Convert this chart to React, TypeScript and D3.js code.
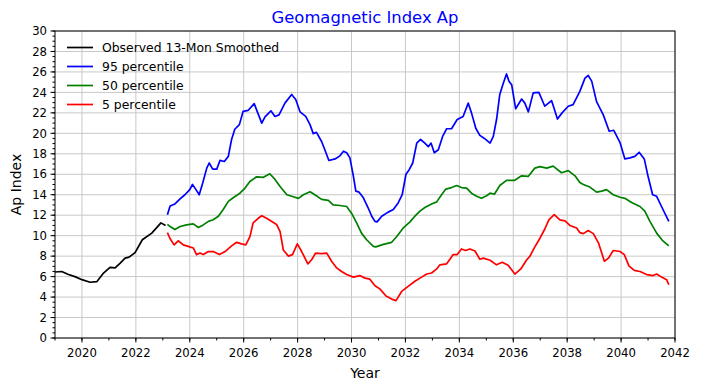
import React from "react";
import * as d3 from "d3";

// [year, Ap] pairs
const observed: [number, number][] = [
  [2019.0, 6.45], [2019.25, 6.5], [2019.5, 6.2], [2019.74, 6.0], [2020.0, 5.7],
  [2020.3, 5.45], [2020.55, 5.5], [2020.8, 6.35], [2021.04, 6.9], [2021.23, 6.85],
  [2021.41, 7.3], [2021.6, 7.8], [2021.75, 7.9], [2021.97, 8.35], [2022.24, 9.6],
  [2022.59, 10.25], [2022.93, 11.25], [2023.1, 11.0],
];

const p95: [number, number][] = [
  [2023.17, 12.05], [2023.27, 12.9], [2023.45, 13.1], [2023.64, 13.6], [2023.82, 14.0],
  [2024.0, 14.5], [2024.1, 15.0], [2024.23, 14.5], [2024.35, 14.0], [2024.48, 15.15],
  [2024.63, 16.6], [2024.72, 17.1], [2024.85, 16.5], [2025.0, 16.5], [2025.12, 17.35],
  [2025.28, 17.25], [2025.43, 17.75], [2025.55, 19.4], [2025.67, 20.4], [2025.84, 20.85],
  [2025.98, 22.15], [2026.17, 22.25], [2026.39, 22.9], [2026.5, 22.15], [2026.67, 21.0],
  [2026.79, 21.6], [2027.01, 22.2], [2027.16, 21.65], [2027.31, 21.8], [2027.53, 22.95],
  [2027.78, 23.8], [2027.93, 23.3], [2028.09, 22.1], [2028.3, 21.65], [2028.46, 20.85],
  [2028.58, 19.97], [2028.7, 20.1], [2028.89, 19.2], [2029.01, 18.4], [2029.16, 17.35],
  [2029.39, 17.5], [2029.57, 17.8], [2029.7, 18.25], [2029.82, 18.1], [2029.94, 17.6],
  [2030.07, 15.8], [2030.16, 14.35], [2030.28, 14.25], [2030.44, 13.7], [2030.62, 12.7],
  [2030.75, 11.9], [2030.87, 11.4], [2030.95, 11.35], [2031.12, 11.9], [2031.36, 12.3],
  [2031.55, 12.55], [2031.73, 13.2], [2031.88, 14.0], [2032.02, 16.0], [2032.14, 16.45],
  [2032.27, 17.1], [2032.42, 19.05], [2032.56, 19.4], [2032.72, 19.05], [2032.85, 18.7],
  [2032.95, 19.05], [2033.07, 18.1], [2033.22, 18.4], [2033.38, 19.7], [2033.53, 20.45],
  [2033.71, 20.45], [2033.92, 21.35], [2034.14, 21.65], [2034.33, 22.95], [2034.45, 22.0],
  [2034.61, 20.5], [2034.76, 19.8], [2034.93, 19.5], [2035.14, 19.05], [2035.26, 19.7],
  [2035.38, 21.35], [2035.5, 23.8], [2035.63, 24.9], [2035.75, 25.8], [2035.84, 25.1],
  [2035.94, 24.75], [2036.09, 22.4], [2036.31, 23.35], [2036.43, 22.95], [2036.56, 22.1],
  [2036.74, 23.95], [2036.95, 24.0], [2037.17, 22.65], [2037.42, 23.2], [2037.64, 21.4],
  [2037.81, 22.0], [2038.04, 22.65], [2038.22, 22.8], [2038.47, 24.1], [2038.66, 25.4],
  [2038.78, 25.65], [2038.91, 25.1], [2039.09, 23.1], [2039.34, 21.8], [2039.56, 20.2],
  [2039.73, 20.3], [2039.96, 19.1], [2040.14, 17.5], [2040.33, 17.6], [2040.51, 17.75],
  [2040.67, 18.15], [2040.86, 17.5], [2041.0, 15.8], [2041.17, 14.0], [2041.32, 13.85],
  [2041.5, 12.85], [2041.77, 11.4],
];

const p50: [number, number][] = [
  [2023.17, 11.1], [2023.27, 10.9], [2023.45, 10.6], [2023.64, 10.9], [2023.88, 11.05],
  [2024.13, 11.15], [2024.32, 10.8], [2024.5, 11.05], [2024.69, 11.4], [2024.87, 11.55],
  [2025.06, 11.9], [2025.24, 12.55], [2025.43, 13.35], [2025.61, 13.7], [2025.86, 14.15],
  [2026.05, 14.65], [2026.23, 15.3], [2026.48, 15.75], [2026.73, 15.7], [2026.97, 16.05],
  [2027.16, 15.5], [2027.35, 14.8], [2027.6, 14.0], [2027.84, 13.8], [2028.03, 13.65],
  [2028.21, 14.0], [2028.46, 14.3], [2028.64, 14.0], [2028.89, 13.55], [2029.14, 13.45],
  [2029.32, 13.0], [2029.57, 12.95], [2029.82, 12.85], [2030.0, 12.2], [2030.19, 11.25],
  [2030.37, 10.25], [2030.56, 9.6], [2030.81, 8.95], [2030.9, 8.9], [2031.18, 9.15],
  [2031.49, 9.35], [2031.67, 9.9], [2031.92, 10.75], [2032.17, 11.35], [2032.35, 11.9],
  [2032.54, 12.4], [2032.72, 12.75], [2032.97, 13.1], [2033.16, 13.3], [2033.34, 14.0],
  [2033.5, 14.55], [2033.71, 14.7], [2033.9, 14.9], [2034.08, 14.7], [2034.27, 14.65],
  [2034.45, 14.15], [2034.64, 13.85], [2034.82, 13.65], [2035.01, 13.9], [2035.14, 14.15],
  [2035.3, 14.05], [2035.5, 14.9], [2035.75, 15.4], [2036.04, 15.4], [2036.31, 15.85],
  [2036.56, 15.8], [2036.8, 16.6], [2036.99, 16.75], [2037.24, 16.6], [2037.48, 16.8],
  [2037.79, 16.15], [2038.04, 16.35], [2038.29, 15.85], [2038.47, 15.2], [2038.6, 15.0],
  [2038.84, 14.75], [2039.09, 14.25], [2039.28, 14.35], [2039.46, 14.5], [2039.71, 14.0],
  [2039.96, 13.75], [2040.14, 13.65], [2040.39, 13.25], [2040.7, 12.85], [2040.88, 12.4],
  [2041.07, 11.4], [2041.32, 10.25], [2041.53, 9.55], [2041.77, 9.0],
];

const p5: [number, number][] = [
  [2023.17, 10.3], [2023.27, 9.7], [2023.42, 9.1], [2023.57, 9.5], [2023.76, 9.1],
  [2023.94, 8.95], [2024.13, 8.8], [2024.25, 8.15], [2024.38, 8.3], [2024.5, 8.15],
  [2024.69, 8.45], [2024.87, 8.45], [2025.1, 8.15], [2025.31, 8.45], [2025.55, 9.0],
  [2025.74, 9.35], [2025.92, 9.2], [2026.08, 9.1], [2026.23, 9.9], [2026.35, 11.25],
  [2026.54, 11.7], [2026.67, 11.95], [2026.85, 11.7], [2026.97, 11.5], [2027.22, 11.1],
  [2027.35, 10.4], [2027.47, 8.6], [2027.66, 8.0], [2027.81, 8.15], [2027.99, 9.2],
  [2028.15, 8.45], [2028.38, 7.25], [2028.52, 7.65], [2028.67, 8.3], [2028.89, 8.25],
  [2029.08, 8.3], [2029.26, 7.5], [2029.45, 6.85], [2029.63, 6.5], [2029.82, 6.2],
  [2030.07, 5.95], [2030.31, 6.1], [2030.5, 5.85], [2030.68, 5.75], [2030.87, 5.1],
  [2031.05, 4.8], [2031.28, 4.1], [2031.49, 3.8], [2031.65, 3.65], [2031.86, 4.55],
  [2032.1, 5.05], [2032.35, 5.55], [2032.6, 5.95], [2032.79, 6.25], [2032.97, 6.35],
  [2033.16, 6.75], [2033.28, 7.15], [2033.53, 7.25], [2033.65, 7.7], [2033.77, 8.15],
  [2033.92, 8.15], [2034.08, 8.7], [2034.23, 8.55], [2034.39, 8.7], [2034.58, 8.5],
  [2034.76, 7.7], [2034.89, 7.8], [2035.14, 7.6], [2035.38, 7.15], [2035.59, 7.4],
  [2035.81, 7.1], [2036.06, 6.25], [2036.28, 6.75], [2036.5, 7.65], [2036.62, 8.0],
  [2036.78, 8.8], [2036.99, 9.75], [2037.17, 10.65], [2037.32, 11.55], [2037.52, 12.05],
  [2037.73, 11.55], [2037.92, 11.45], [2038.1, 11.0], [2038.35, 10.75], [2038.47, 10.3],
  [2038.6, 10.2], [2038.78, 10.5], [2038.97, 10.2], [2039.16, 9.3], [2039.38, 7.5],
  [2039.53, 7.8], [2039.71, 8.55], [2039.96, 8.45], [2040.12, 8.15], [2040.29, 7.05],
  [2040.49, 6.6], [2040.7, 6.5], [2040.95, 6.2], [2041.19, 6.1], [2041.32, 6.25],
  [2041.5, 5.95], [2041.69, 5.7], [2041.77, 5.2],
];

const seriesNames = ["Observed 13-Mon Smoothed", "95 percentile", "50 percentile", "5 percentile"];
const seriesColors = ["#000000", "#0000ff", "#008000", "#ff0000"];

const xMajorTicks = d3.range(2020, 2043, 2);
const xMinorTicks = d3.range(2019, 2043, 1);
const yMajorTicks = d3.range(0, 31, 2);
const yMinorTicks = d3.range(0, 30.01, 0.5);

const W = 701;
const H = 390;
const m = { left: 55, right: 26, top: 31, bottom: 52 };
const font = "DejaVu Sans, sans-serif";

export default function App() {
  const x = d3.scaleLinear().domain([2019, 2042]).range([m.left, W - m.right]);
  const y = d3.scaleLinear().domain([0, 30]).range([H - m.bottom, m.top]);
  const line = d3
    .line<[number, number]>()
    .x((d) => x(d[0]))
    .y((d) => y(d[1]));

  const data = [observed, p95, p50, p5];
  const x0 = m.left;
  const x1 = W - m.right;
  const y0 = H - m.bottom;
  const y1 = m.top;

  return (
    <svg
      width={W}
      height={H}
      style={{ position: "absolute", left: 0, top: 0, background: "#fff" }}
      fontFamily={font}
    >
      {/* grid */}
      {xMajorTicks.map((t) => (
        <line key={"gx" + t} x1={x(t)} x2={x(t)} y1={y0} y2={y1} stroke="#c8c8c8" strokeWidth={1} />
      ))}
      {yMajorTicks.map((t) => (
        <line key={"gy" + t} x1={x0} x2={x1} y1={y(t)} y2={y(t)} stroke="#c8c8c8" strokeWidth={1} />
      ))}

      {/* series */}
      {data.map((d, i) => (
        <path key={i} d={line(d) ?? ""} fill="none" stroke={seriesColors[i]} strokeWidth={1.7} strokeLinejoin="round" />
      ))}

      {/* frame */}
      <rect x={x0} y={y1} width={x1 - x0} height={y0 - y1} fill="none" stroke="#000" strokeWidth={1} />

      {/* x ticks */}
      {xMinorTicks.map((t) => (
        <line key={"mx" + t} x1={x(t)} x2={x(t)} y1={y0} y2={y0 + 2.5} stroke="#000" />
      ))}
      {xMajorTicks.map((t) => (
        <g key={"tx" + t}>
          <line x1={x(t)} x2={x(t)} y1={y0} y2={y0 + 4.5} stroke="#000" />
          <text x={x(t)} y={y0 + 19} textAnchor="middle" fontSize={11.7}>
            {t}
          </text>
        </g>
      ))}

      {/* y ticks */}
      {yMinorTicks.map((t) => (
        <line key={"my" + t} x1={x0 - 2.5} x2={x0} y1={y(t)} y2={y(t)} stroke="#000" />
      ))}
      {yMajorTicks.map((t) => (
        <g key={"ty" + t}>
          <line x1={x0 - 4.5} x2={x0} y1={y(t)} y2={y(t)} stroke="#000" />
          <text x={x0 - 8} y={y(t) + 4.2} textAnchor="end" fontSize={11.7}>
            {t}
          </text>
        </g>
      ))}

      {/* labels */}
      <text x={(x0 + x1) / 2} y={22.5} textAnchor="middle" fontSize={16.4} fill="#0000ff">
        Geomagnetic Index Ap
      </text>
      <text x={(x0 + x1) / 2} y={378} textAnchor="middle" fontSize={14}>
        Year
      </text>
      <text transform={`translate(21,${(y0 + y1) / 2}) rotate(-90)`} textAnchor="middle" fontSize={14}>
        Ap Index
      </text>

      {/* legend */}
      {seriesNames.map((n, i) => (
        <g key={n} transform={`translate(67,${47.5 + i * 19})`}>
          <line x1={0} x2={26} y1={0} y2={0} stroke={seriesColors[i]} strokeWidth={1.7} />
          <text x={35} y={4.4} fontSize={12.4}>
            {n}
          </text>
        </g>
      ))}
    </svg>
  );
}
